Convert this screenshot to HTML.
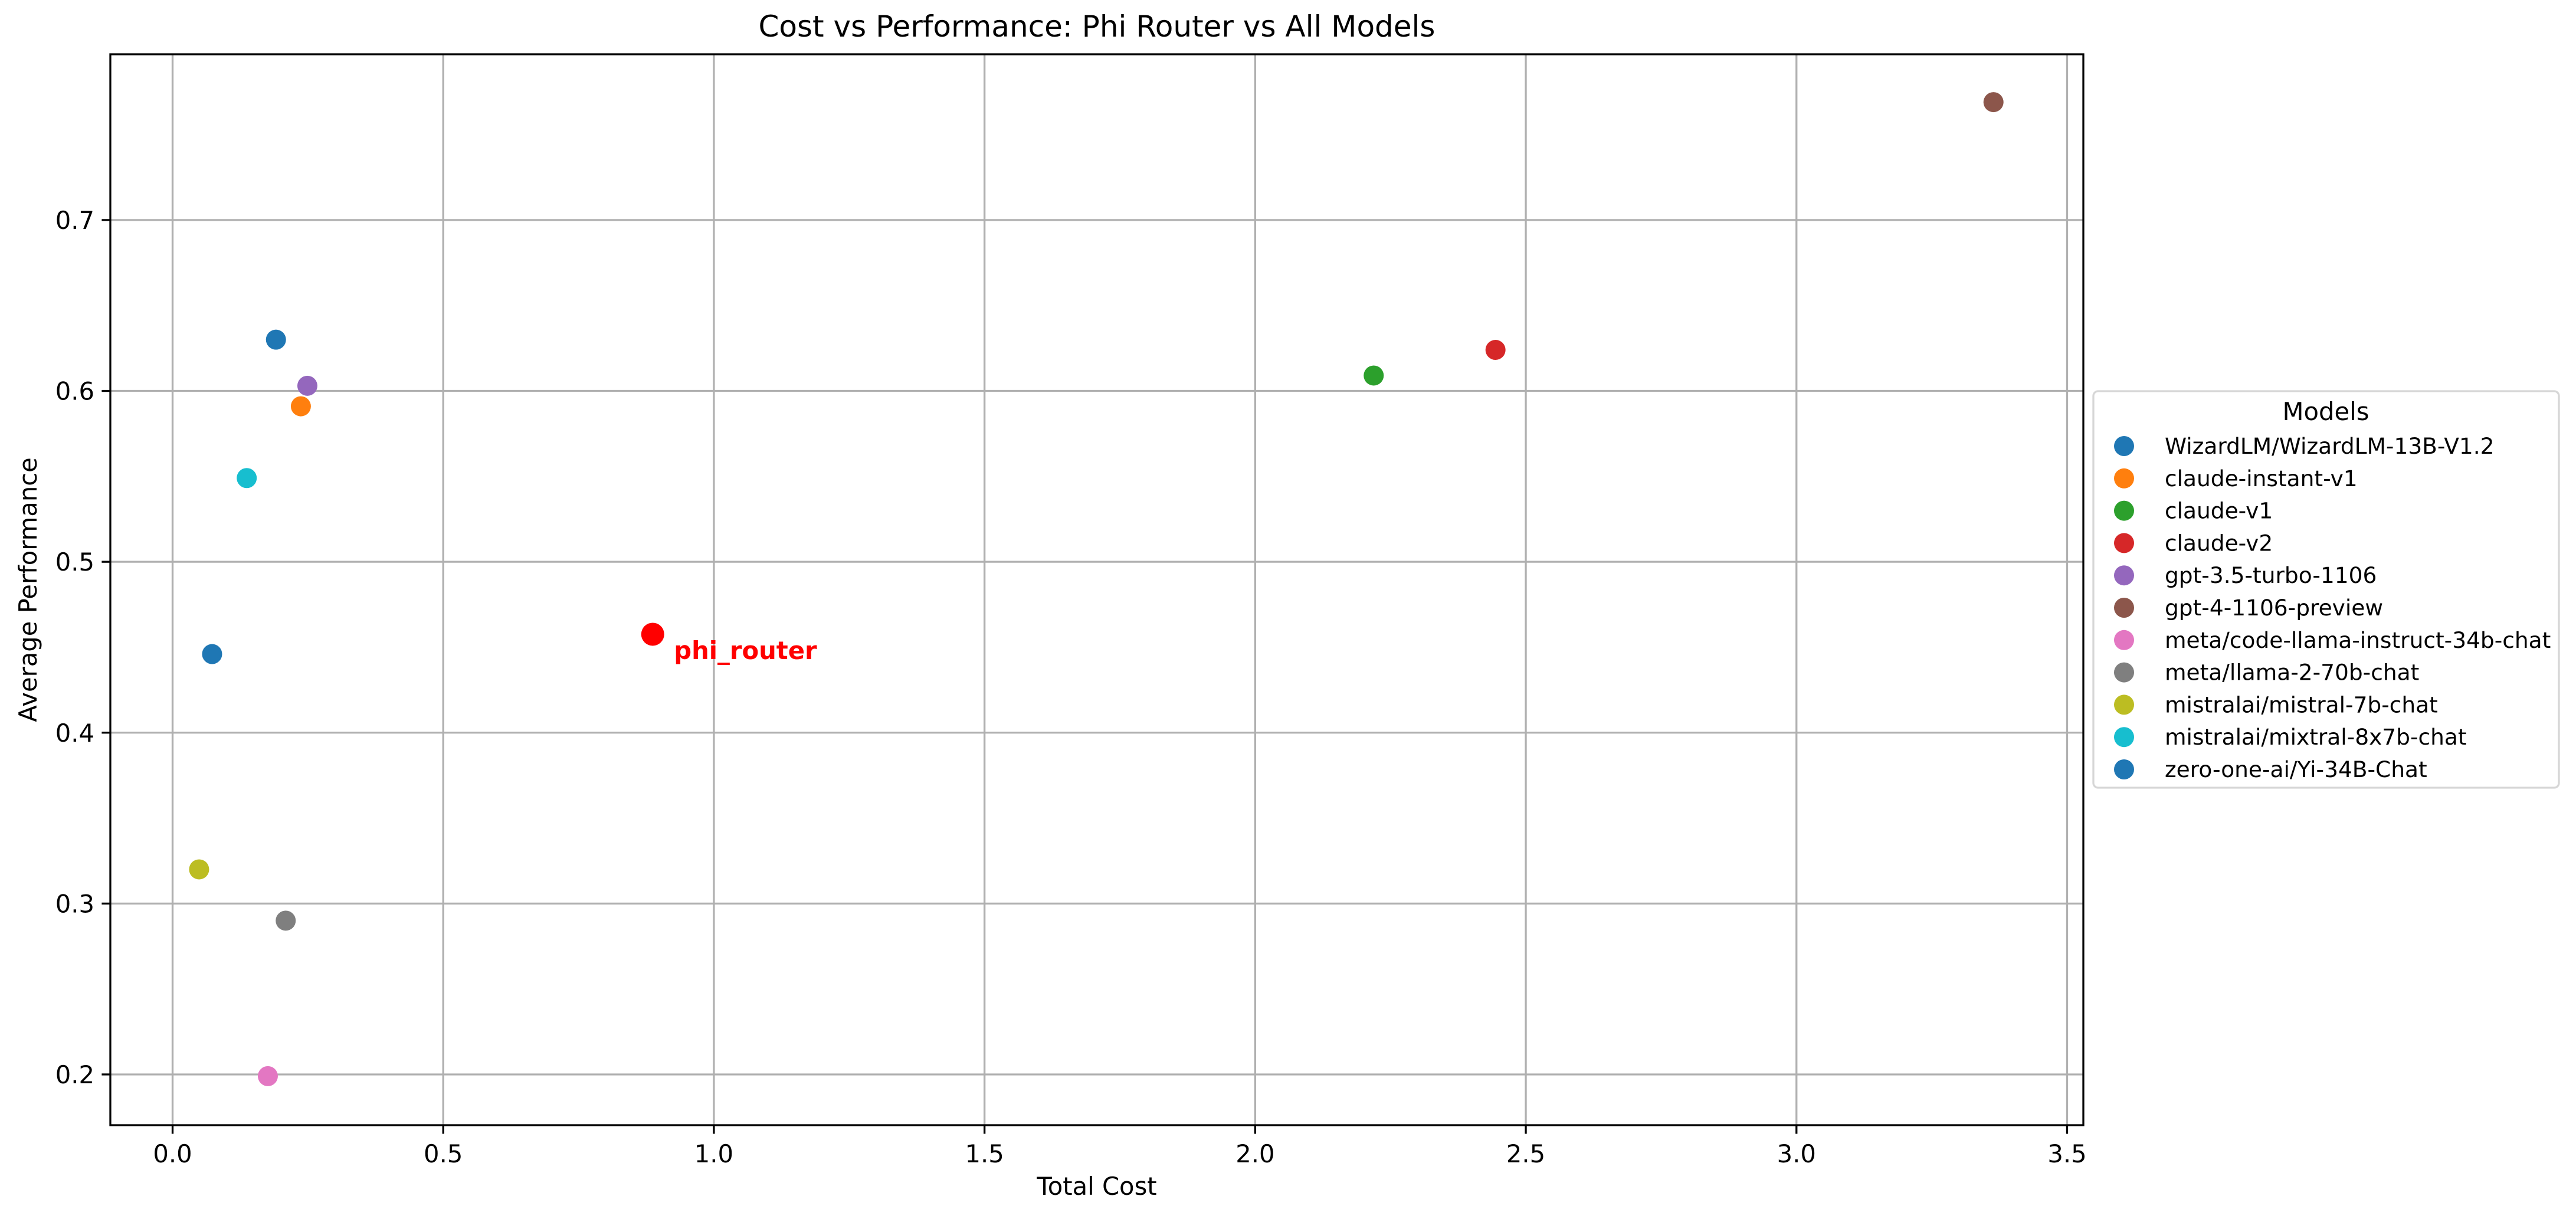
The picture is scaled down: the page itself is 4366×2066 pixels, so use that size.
<!DOCTYPE html>
<html><head><meta charset="utf-8"><style>
html,body{margin:0;padding:0;background:#fff;}
svg{display:block;font-family:"DejaVu Sans","Liberation Sans",sans-serif;}
</style></head><body>
<svg id="chart" width="4366" height="2066" viewBox="0 0 4366 2066" xmlns="http://www.w3.org/2000/svg"></svg>
<script>
const models = ["WizardLM/WizardLM-13B-V1.2","claude-instant-v1","claude-v1","claude-v2","gpt-3.5-turbo-1106","gpt-4-1106-preview","meta/code-llama-instruct-34b-chat","meta/llama-2-70b-chat","mistralai/mistral-7b-chat","mistralai/mixtral-8x7b-chat","zero-one-ai/Yi-34B-Chat"];
const costs = [0.191,0.237,2.219,2.444,0.249,3.364,0.176,0.209,0.049,0.137,0.073];
const perfs = [0.630,0.591,0.609,0.624,0.603,0.769,0.199,0.290,0.320,0.549,0.446];
const colors = ["#1f77b4","#ff7f0e","#2ca02c","#d62728","#9467bd","#8c564b","#e377c2","#7f7f7f","#bcbd22","#17becf","#1f77b4"];
const routerCost = [0.887];
const routerPerf = [0.4576];
const xTicks = [0.0,0.5,1.0,1.5,2.0,2.5,3.0,3.5];
const yTicks = [0.2,0.3,0.4,0.5,0.6,0.7];

const NS = "http://www.w3.org/2000/svg";
const svg = document.getElementById("chart");
const L=187,R=3531,T=92,B=1907;
const xMin=-0.115,xMax=3.530,yMin=0.1703,yMax=0.797;
function sx(v){return L+(v-xMin)/(xMax-xMin)*(R-L);}
function sy(v){return B-(v-yMin)/(yMax-yMin)*(B-T);}
function mk(tag,attrs,parent){const e=document.createElementNS(NS,tag);for(const k in attrs)e.setAttribute(k,attrs[k]);(parent||svg).appendChild(e);return e;}

const grid=mk("g",{});


xTicks.forEach(t=>{
  const l=mk("line",{x1:sx(t),x2:sx(t),y1:T,y2:B,stroke:"#b0b0b0","stroke-width":3.3},grid);
  
  
  const tk=mk("line",{x1:sx(t),x2:sx(t),y1:B,y2:B+14.6,stroke:"#000","stroke-width":3.3});
  
  
  const tx=mk("text",{x:sx(t),y:1970,"font-size":41.7,"text-anchor":"middle",fill:"#000"});
  tx.textContent=t.toFixed(1);
  
  
});
yTicks.forEach(t=>{
  const l=mk("line",{x1:L,x2:R,y1:sy(t),y2:sy(t),stroke:"#b0b0b0","stroke-width":3.3},grid);
  
  
  const tk=mk("line",{x1:L-14.6,x2:L,y1:sy(t),y2:sy(t),stroke:"#000","stroke-width":3.3});
  
  
  const tx=mk("text",{x:160,y:sy(t)+15,"font-size":41.7,"text-anchor":"end",fill:"#000"});
  tx.textContent=t.toFixed(1);
  
  
});

models.forEach((m,i)=>{
  const c=mk("circle",{cx:sx(costs[i]),cy:sy(perfs[i]),r:17,fill:colors[i]});
  
  
});
routerCost.forEach((v,i)=>{
  const c=mk("circle",{cx:sx(v),cy:sy(routerPerf[i]),r:19.5,fill:"#ff0000"});
  
  
  const t=mk("text",{x:sx(v)+36,y:sy(routerPerf[i])+42,"font-size":41.7,"font-weight":"bold",fill:"#ff0000"});
  t.textContent="phi_router";
  
  
});

const frame=mk("rect",{x:L,y:T,width:R-L,height:B-T,fill:"none",stroke:"#000","stroke-width":3.3});



const title=mk("text",{x:(L+R)/2,y:62,"font-size":50,"text-anchor":"middle",fill:"#000"});
title.textContent="Cost vs Performance: Phi Router vs All Models";


const xl=mk("text",{x:(L+R)/2,y:2025,"font-size":41.7,"text-anchor":"middle",fill:"#000"});
xl.textContent="Total Cost";


const yl=mk("text",{x:0,y:0,"font-size":41.7,"text-anchor":"middle",fill:"#000",transform:"translate(62,"+((T+B)/2)+") rotate(-90)"});
yl.textContent="Average Performance";



const leg=mk("g",{});


const box=mk("rect",{x:3548,y:663,width:789,height:672,rx:8,fill:"#fff",stroke:"#d6d6d6","stroke-width":3.3},leg);


const lt=mk("text",{x:3942,y:712,"font-size":41.7,"text-anchor":"middle",fill:"#000"},leg);
lt.textContent="Models";


models.forEach((m,i)=>{
  const y=756+i*54.8;
  const c=mk("circle",{cx:3600,cy:y,r:17,fill:colors[i]},leg);
  
  
  const t=mk("text",{x:3669,y:y+13,"font-size":37.5,fill:"#000"},leg);
  t.textContent=m;
  
  
});
</script>
</body></html>
